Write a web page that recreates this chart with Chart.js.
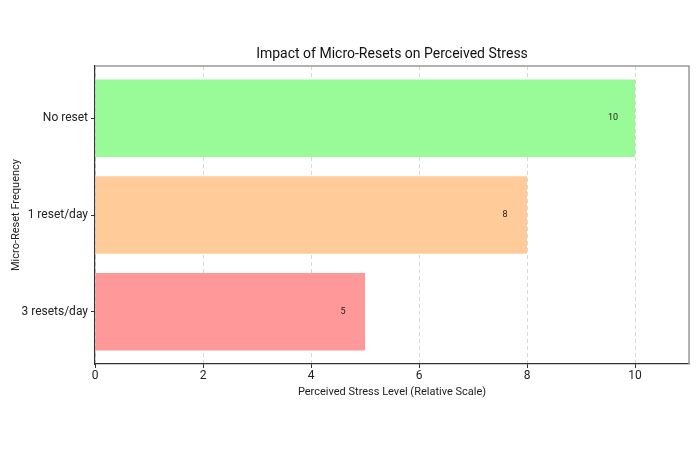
<!DOCTYPE html>
<html>
<head>
<meta charset="utf-8">
<script src="https://cdn.jsdelivr.net/npm/chart.js@4/dist/chart.umd.min.js"></script>
<style>
  html, body { margin: 0; padding: 0; background: #fff; }
  #wrap { width: 700px; height: 450px; }
</style>
</head>
<body>
<div id="wrap"><canvas id="myChart"></canvas></div>
<script>
// Chart data
const categories = ['No reset', '1 reset/day', '3 resets/day'];
const stressLevels = [10, 8, 5];
const barColors = ['#98fb98', '#ffcc99', '#ff9999'];
const xTicks = [0, 2, 4, 6, 8, 10];
const chartTitle = 'Impact of Micro-Resets on Perceived Stress';

Chart.defaults.font.family = 'Roboto, "Open Sans", sans-serif';
Chart.defaults.color = '#222';

// Title over the plot, value labels inside the bar ends, top/right frame
const extras = {
    id: 'extras',
    afterDatasetsDraw(chart) {
        const ctx = chart.ctx;
        const a = chart.chartArea;
        const meta = chart.getDatasetMeta(0);
        ctx.save();
        ctx.fillStyle = '#222';
        ctx.textAlign = 'center';
        ctx.textBaseline = 'middle';
        ctx.font = '9px Roboto, sans-serif';
        meta.data.forEach((bar, i) => {
            ctx.fillText(String(stressLevels[i]), bar.x - 22, bar.y);
        });
        ctx.font = '14px Roboto, sans-serif';
        ctx.fillStyle = '#111';
        ctx.fillText(chartTitle, (a.left + a.right) / 2, a.top - 12);

        ctx.strokeStyle = '#999';
        ctx.lineWidth = 1.5;
        ctx.beginPath();
        ctx.moveTo(a.left, a.top);
        ctx.lineTo(a.right, a.top);
        ctx.lineTo(a.right, a.bottom);
        ctx.stroke();
        ctx.restore();
    }
};

new Chart(document.getElementById('myChart'), {
    type: 'bar',
    data: {
        datasets: [{
            data: stressLevels.map((v, i) => ({ x: v, y: i })),
            backgroundColor: barColors,
            barPercentage: 0.8,
            categoryPercentage: 1.0
        }]
    },
    options: {
        indexAxis: 'y',
        responsive: true,
        maintainAspectRatio: false,
        animation: false,
        layout: { padding: { left: 0, right: 11, top: 66, bottom: 51 } },
        plugins: {
            legend: { display: false },
            tooltip: { enabled: false },
            title: { display: false }
        },
        scales: {
            x: {
                type: 'linear',
                min: 0,
                max: 11,
                afterBuildTicks: axis => {
                    axis.ticks = xTicks.map(v => ({ value: v }));
                },
                afterFit: axis => { axis.height = 35; },
                ticks: { font: { size: 12 }, color: '#222', padding: 1 },
                grid: {
                    color: '#d8d8d8',
                    tickColor: '#333',
                    tickLength: 4,
                    lineWidth: 1
                },
                border: { color: '#333', width: 1.2, dash: [4, 3] },
                title: {
                    display: true,
                    text: 'Perceived Stress Level (Relative Scale)',
                    font: { size: 11 },
                    color: '#222',
                    padding: { top: 1, bottom: 0 }
                }
            },
            y: {
                type: 'linear',
                min: -0.54,
                max: 2.54,
                reverse: true,
                offset: false,
                afterBuildTicks: axis => {
                    axis.ticks = categories.map((c, i) => ({ value: i }));
                },
                afterFit: axis => { axis.width = 95; },
                ticks: {
                    font: { size: 12 },
                    color: '#222',
                    padding: 3,
                    callback: v => categories[v]
                },
                grid: {
                    offset: false,
                    drawOnChartArea: false,
                    tickColor: '#333',
                    tickLength: 4
                },
                border: { color: '#333', width: 1.2 },
                title: {
                    display: true,
                    text: 'Micro-Reset Frequency',
                    font: { size: 11 },
                    color: '#222',
                    padding: { top: 10, bottom: 4 }
                }
            }
        }
    },
    plugins: [extras]
});
</script>
</body>
</html>
